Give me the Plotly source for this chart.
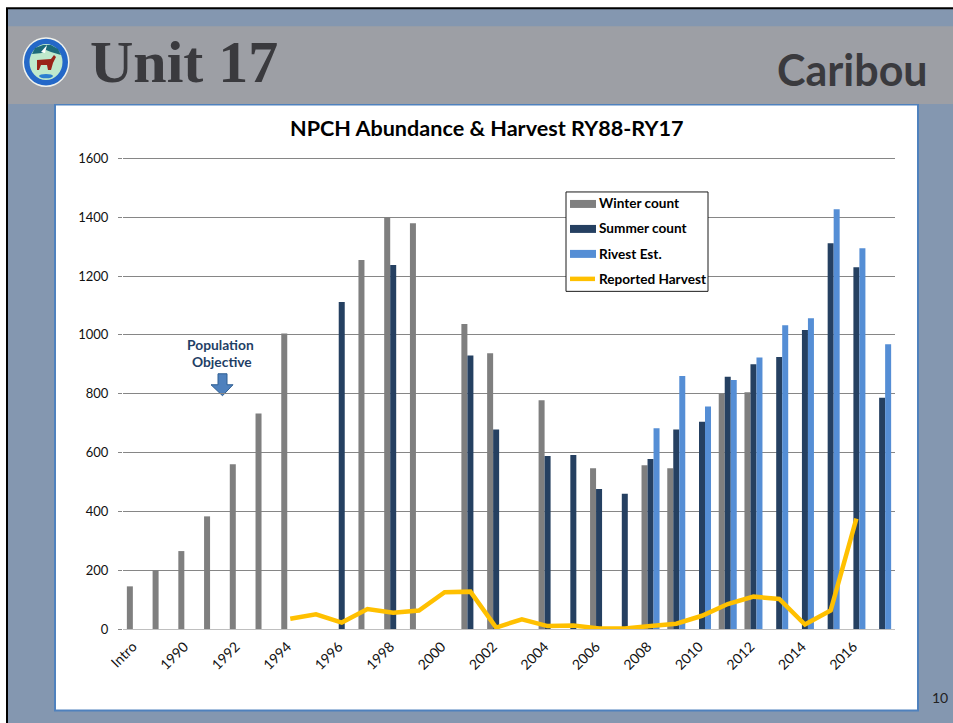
import plotly.graph_objects as go

W, H = 953, 723
L, R, T, B = 123, 895, 157, 629.5

categories = ["Intro", "1989", "1990", "1991", "1992", "1993", "1994", "1995", "1996", "1997",
              "1998", "1999", "2000", "2001", "2002", "2003", "2004", "2005", "2006", "2007",
              "2008", "2009", "2010", "2011", "2012", "2013", "2014", "2015", "2016", "2017"]
tick_labels = ["Intro", "1990", "1992", "1994", "1996", "1998", "2000", "2002", "2004", "2006",
               "2008", "2010", "2012", "2014", "2016"]
winter_count = [145, 200, 265, 383, 560, 733, 1005, None, None, 1255,
                1400, 1380, None, 1037, 938, None, 778, None, 547, None,
                557, 547, None, 800, 805, None, None, None, None, None]
summer_count = [None, None, None, None, None, None, None, None, 1112, None,
                1238, None, None, 930, 678, None, 588, 592, 476, 460,
                578, 678, 705, 858, 900, 925, 1017, 1312, 1230, 786]
rivest_est = [None, None, None, None, None, None, None, None, None, None,
              None, None, None, None, None, None, None, None, None, None,
              683, 860, 757, 847, 923, 1033, 1057, 1427, 1295, 968]
reported_harvest = [None, None, None, None, None, None, 35, 50, 22, 68,
                    55, 63, 125, 127, 5, 33, 10, 12, 2, 2,
                    10, 18, 45, 85, 110, 102, 15, 63, 375, None]

WINTER, SUMMER, RIVEST, HARVEST = "#7F7F7F", "#254061", "#558ED5", "#FFC000"
legend_labels = ["Winter count", "Summer count", "Rivest Est.", "Reported Harvest"]


def px(x):
    return (x - L) / (R - L)


def py(y):
    return (B - y) / (B - T)


def rect(x0, y0, x1, y1, fill, line=None, lw=0, layer="below"):
    return dict(type="rect", xref="paper", yref="paper", layer=layer,
                x0=px(x0), x1=px(x1), y0=py(y0), y1=py(y1), fillcolor=fill,
                line=dict(color=line or fill, width=lw))


def circle(cx, cy, rx, ry, fill, line=None, lw=0):
    s = rect(cx - rx, cy - ry, cx + rx, cy + ry, fill, line, lw)
    s["type"] = "circle"
    return s


def path(points, fill, line=None, lw=0):
    d = "M" + " L".join(f"{px(x):.5f},{py(y):.5f}" for x, y in points) + " Z"
    return dict(type="path", xref="paper", yref="paper", layer="below", path=d,
                fillcolor=fill, line=dict(color=line or fill, width=lw))


shapes = [
    rect(6, 7, W + 5, H + 5, "#000000"),
    rect(8, 9, W + 5, H + 5, "#8497B0"),
    rect(8, 26, W + 5, 104, "#9D9FA5"),
    rect(54, 104, 919, 712, "#4F81BD"),
    rect(56, 105.5, 917, 710, "#FFFFFF"),
    # emblem
    circle(46, 62, 23.5, 25, "#F1F3EE"),
    circle(46, 62, 22, 23.5, "#2468C8"),
    circle(46, 62, 16.5, 18, "#BFE9CC"),
    path([(32, 54), (35, 48), (43, 45), (51, 45), (58, 49), (61, 55), (51, 52), (46, 50), (42, 53)], "#1D6B7A"),
    path([(41, 52), (47, 45), (45, 53)], "#FFFFFF"),
    path([(37, 60), (51, 59), (54, 55), (56, 57), (53, 63), (51, 70), (48, 70), (47, 65), (41, 65), (39, 70), (37, 70)], "#9A2418"),
    circle(46, 76, 7, 2.2, "#2C7FD0"),
    # population objective arrow
    path([(218, 374), (227, 374), (227, 385), (233, 385), (222.5, 396), (211, 385), (218, 385)],
         "#4F81BD", "#2F5F93", 1),
    # legend box and keys
    rect(566, 192, 708, 291.5, "#FFFFFF", "#1A1A1A", 1, "above"),
    rect(570, 200, 596, 208, WINTER, layer="above"),
    rect(570, 225, 596, 233, SUMMER, layer="above"),
    rect(570, 250, 596, 258, RIVEST, layer="above"),
    dict(type="line", xref="paper", yref="paper", layer="above",
         x0=px(570), x1=px(595), y0=py(279), y1=py(279), line=dict(color=HARVEST, width=4.5)),
]

fig = go.Figure()
fig.add_bar(x=categories, y=winter_count, name=legend_labels[0], marker_color=WINTER, marker_line_width=0)
fig.add_bar(x=categories, y=summer_count, name=legend_labels[1], marker_color=SUMMER, marker_line_width=0)
fig.add_bar(x=categories, y=rivest_est, name=legend_labels[2], marker_color=RIVEST, marker_line_width=0)
fig.add_scatter(x=categories, y=reported_harvest, name=legend_labels[3], mode="lines",
                line=dict(color=HARVEST, width=4.5, shape="linear"))


def note(x, y, text, size, color, family="Lato", bold=False, xanchor="center"):
    return dict(xref="paper", yref="paper", x=px(x), y=py(y), text=f"<b>{text}</b>" if bold else text,
                showarrow=False, xanchor=xanchor, yanchor="middle",
                font=dict(family=family, size=size, color=color))


annotations = [
    note(184, 62, "Unit 17", 60, "#3A3A3E", "Liberation Serif", True),
    note(852, 69, "Caribou", 43, "#3A3A3E", "Lato", True),
    note(486, 128, "NPCH Abundance &amp; Harvest RY88-RY17", 21.6, "#000000", "Lato", True),
    note(220.5, 344.5, "Population", 13.8, "#1F3F66", "Lato", True),
    note(222, 361.5, "Objective", 13.8, "#1F3F66", "Lato", True),
    note(940, 698, "10", 14, "#222222", "Lato"),
]
for label, y in zip(legend_labels, [203, 228, 254, 279]):
    annotations.append(note(597, y, label, 13.6, "#000000", "Lato", True, "left"))

fig.update_layout(
    width=W, height=H, autosize=False,
    margin=dict(l=L, r=W - R, t=T, b=H - B, pad=0),
    paper_bgcolor="#FFFFFF", plot_bgcolor="rgba(0,0,0,0)",
    barmode="group", bargap=0.3, bargroupgap=0,
    font=dict(family="Lato", size=13, color="#111111"),
    shapes=shapes, annotations=annotations, showlegend=False,
    xaxis=dict(type="category", categoryorder="array", categoryarray=categories,
               tickmode="array", tickvals=tick_labels, ticktext=tick_labels,
               tickangle=-45, ticks="", showgrid=False, showline=True,
               linecolor="#BFBFBF", linewidth=1, tickfont=dict(size=14),
               ticklabelstandoff=3, ticklabelshift=-3),
    yaxis=dict(range=[0, 1605], tick0=0, dtick=200, ticks="outside", ticklen=4, tickwidth=1,
               tickcolor="#868686", gridcolor="#868686", gridwidth=1, zeroline=False,
               showline=False, tickfont=dict(size=13), ticklabelstandoff=7),
)

fig.write_html("out.html", config={"displayModeBar": False},
               post_script="document.body.style.margin='0';document.body.style.overflow='hidden';")
